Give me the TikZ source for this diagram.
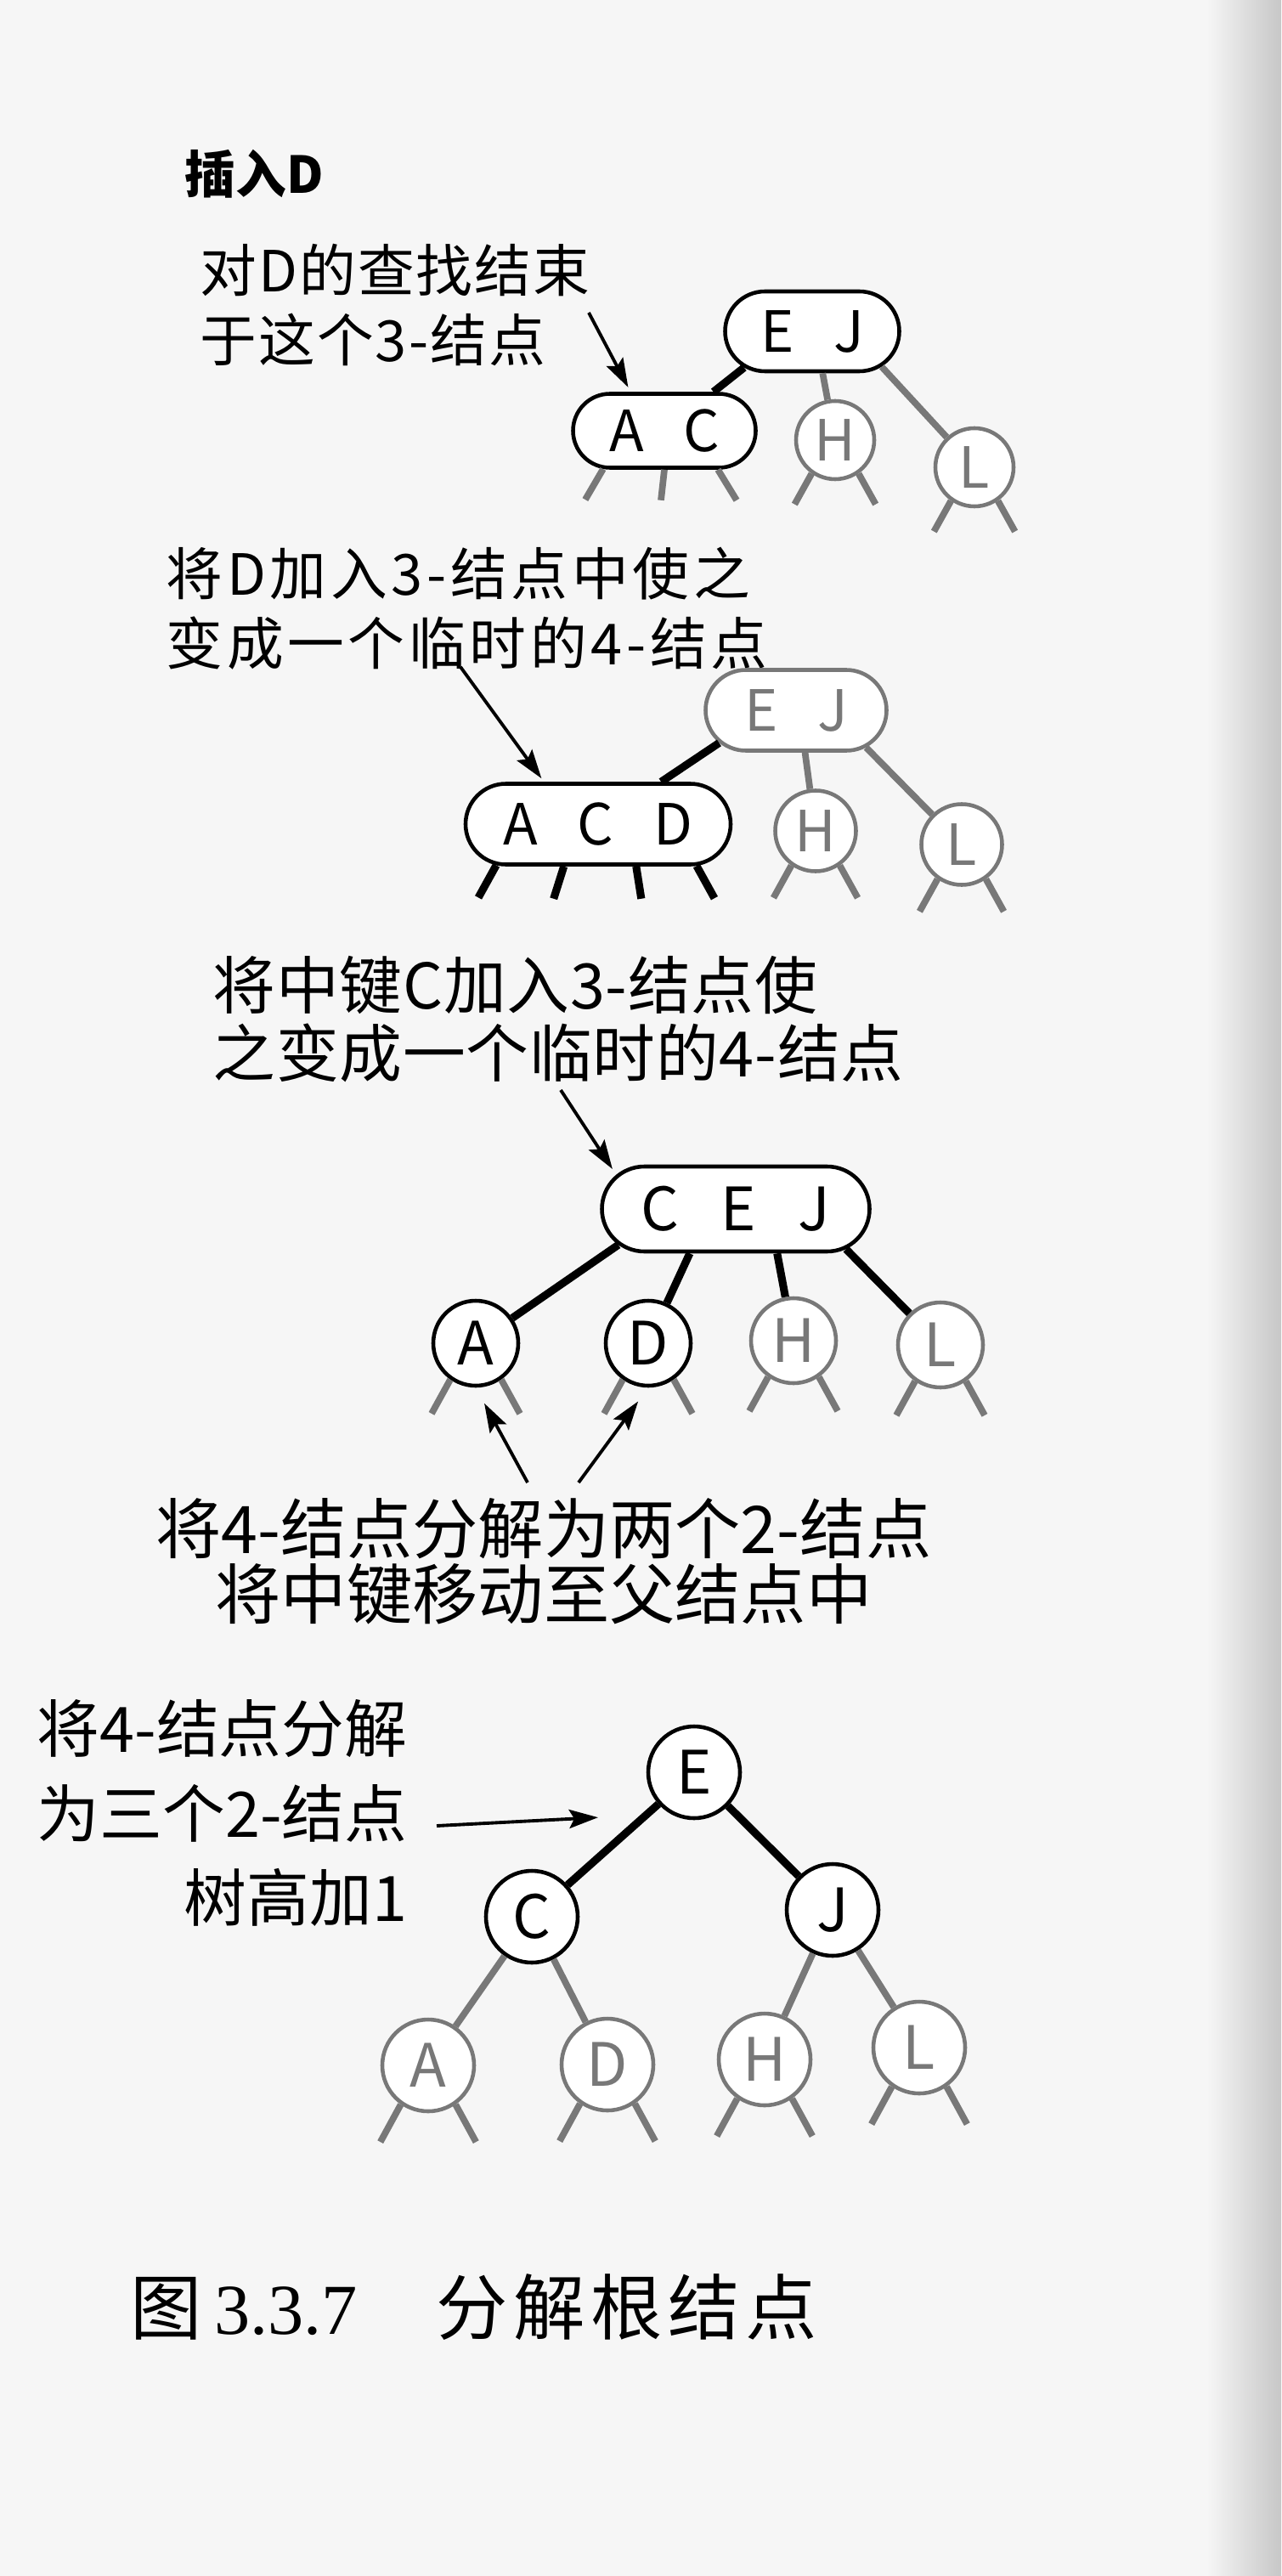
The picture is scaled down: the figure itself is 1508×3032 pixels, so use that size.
\documentclass[tikz,border=0pt]{standalone}
\usepackage{fontspec}
\setmainfont{Noto Sans CJK SC}
\newfontfamily\capfont{Liberation Serif}
\usetikzlibrary{arrows.meta,shapes.misc}
\definecolor{halftone}{gray}{0.47}
\definecolor{paper}{gray}{0.965}
\newcommand{\keygap}{\hspace{0.7em}}
\newcommand{\spread}[1]{\addfontfeatures{LetterSpace=#1}}

\begin{document}
\begin{tikzpicture}[x=0.1mm,y=-0.1mm,
  key/.style={circle,draw=black,fill=white,line width=1.3pt,minimum size=10mm,inner sep=0pt,font=\fontsize{19pt}{19pt}\selectfont},
  gkey/.style={key,draw=halftone,text=halftone},
  multi/.style={rounded rectangle,draw=black,fill=white,line width=1.3pt,inner sep=0pt,font=\fontsize{19pt}{19pt}\selectfont},
  gmulti/.style={multi,draw=halftone,text=halftone},
  link/.style={line width=2.6pt},
  glink/.style={line width=2.2pt,draw=halftone},
  arr/.style={-{Stealth[length=3.4mm,width=2.2mm,inset=0.6mm]},line width=1.1pt},
  note/.style={inner sep=0pt,font=\fontsize{19pt}{23.3pt}\selectfont}]

  \fill[paper] (0,0) rectangle (1508,3032);
  \shade[left color=paper,right color=black!22] (1420,0) rectangle (1508,3032);

  % search for D
  \node[note,anchor=west,font=\fontsize{17pt}{17pt}\selectfont\bfseries] (ins) at (217,205) {插入D};
  \node[note,anchor=west,align=left,font=\fontsize{19pt}{23.3pt}\selectfont\spread{3}] (t1) at (235,359) {对D的查找结束\\于这个3-结点};
  \node[multi,minimum width=20.5mm,minimum height=9.4mm] (ej1) at (956,390) {E\keygap J};
  \node[multi,minimum width=21.5mm,minimum height=8.7mm] (ac1) at (782,507) {A\keygap C};
  \node[gkey,minimum size=9.2mm] (h1) at (983,518) {H};
  \node[gkey,minimum size=9.2mm] (l1) at (1147,550) {L};
  \draw[link] (ej1.208) -- (ac1);
  \draw[glink] (ej1.284) -- (h1);
  \draw[glink] (ej1.333) -- (l1);
  \foreach \a/\dx in {212/-21,270/-4,324/22}
    \draw[glink] (ac1.\a) -- ++(\dx,36);
  \foreach \n in {h1,l1} {
    \draw[glink] (\n.235) -- ++(-20,36);
    \draw[glink] (\n.305) -- ++(20,36);
  }
  \coordinate (s1) at (693,368);
  \draw[arr,shorten >=0.6mm] (s1) -- (ac1.131);

  % temporary 4-node
  \node[note,anchor=west,align=left,font=\fontsize{19pt}{23.3pt}\selectfont\spread{7}] (t2) at (195,716) {将D加入3-结点中使之\\变成一个临时的4-结点};
  \node[gmulti,minimum width=21.3mm,minimum height=9.5mm] (ej2) at (937,836) {E\keygap J};
  \node[multi,minimum width=31.2mm,minimum height=9.5mm] (acd2) at (704,970) {A\keygap C\keygap D};
  \node[gkey,minimum size=9.5mm] (h2) at (960,978) {H};
  \node[gkey,minimum size=9.5mm] (l2) at (1132,994) {L};
  \draw[link] (ej2.203) -- (acd2);
  \draw[glink] (ej2.282) -- (h2);
  \draw[glink] (ej2.332) -- (l2);
  \foreach \a/\dx in {202/-21,231/-12,312/6,337/21}
    \draw[link] (acd2.\a) -- ++(\dx,38);
  \foreach \n in {h2,l2} {
    \draw[glink] (\n.235) -- ++(-21,38);
    \draw[glink] (\n.305) -- ++(21,38);
  }
  \coordinate (s2) at (542,785);
  \draw[arr,shorten >=0.5mm] (s2) -- (acd2.142);

  % middle key goes up
  \node[note,anchor=west,align=left,font=\fontsize{21pt}{22.8pt}\selectfont\spread{1}] (t3) at (250,1200) {将中键C加入3-结点使\\之变成一个临时的4-结点};
  \node[multi,minimum width=31.5mm,minimum height=10mm,font=\fontsize{20pt}{20pt}\selectfont] (cej3) at (866,1423) {C\keygap E\keygap J};
  \node[key,font=\fontsize{20pt}{20pt}\selectfont] (a3) at (560,1581) {A};
  \node[key,font=\fontsize{20pt}{20pt}\selectfont] (d3) at (763,1581) {D};
  \node[gkey,font=\fontsize{20pt}{20pt}\selectfont] (h3) at (934,1578) {H};
  \node[gkey,font=\fontsize{20pt}{20pt}\selectfont] (l3) at (1107,1583) {L};
  \draw[link] (cej3.197) -- (a3);
  \draw[link] (cej3.224) -- (d3);
  \draw[link] (cej3.313) -- (h3);
  \draw[link] (cej3.340) -- (l3);
  \foreach \n in {a3,d3,h3,l3} {
    \draw[glink] (\n.235) -- ++(-22,40);
    \draw[glink] (\n.305) -- ++(22,40);
  }
  \coordinate (s3) at (660,1283);
  \draw[arr,shorten >=0.8mm] (s3) -- (cej3.164);

  \node[note,align=center,font=\fontsize{22pt}{22pt}\selectfont] (t4) at (640,1838) {将4-结点分解为两个2-结点\\将中键移动至父结点中};
  \coordinate (s4a) at (621,1745);
  \coordinate (s4b) at (681,1745);
  \draw[arr,shorten >=2.1mm] (s4a) -- (a3.south);
  \draw[arr,shorten >=2mm] (s4b) -- (d3.south);

  % split the root
  \node[note,anchor=east,align=right,font=\fontsize{21pt}{28.4pt}\selectfont] (t5) at (480,2134) {将4-结点分解\\为三个2-结点\\树高加1};
  \node[key,minimum size=10.8mm,font=\fontsize{20pt}{20pt}\selectfont] (e5) at (817,2086) {E};
  \node[key,minimum size=10.8mm,font=\fontsize{20pt}{20pt}\selectfont] (c5) at (626,2256) {C};
  \node[key,minimum size=10.8mm,font=\fontsize{20pt}{20pt}\selectfont] (j5) at (980,2248) {J};
  \node[gkey,minimum size=10.8mm,font=\fontsize{20pt}{20pt}\selectfont] (a5) at (504,2431) {A};
  \node[gkey,minimum size=10.8mm,font=\fontsize{20pt}{20pt}\selectfont] (d5) at (715,2430) {D};
  \node[gkey,minimum size=10.8mm,font=\fontsize{20pt}{20pt}\selectfont] (h5) at (900,2424) {H};
  \node[gkey,minimum size=10.8mm,font=\fontsize{20pt}{20pt}\selectfont] (l5) at (1082,2410) {L};
  \draw[link] (e5) -- (c5);
  \draw[link] (e5) -- (j5);
  \draw[glink] (c5) -- (a5);
  \draw[glink] (c5) -- (d5);
  \draw[glink] (j5) -- (h5);
  \draw[glink] (j5) -- (l5);
  \foreach \n in {a5,d5,h5,l5} {
    \draw[glink] (\n.235) -- ++(-24,44);
    \draw[glink] (\n.305) -- ++(24,44);
  }
  \coordinate (s5) at (514,2149);
  \draw[arr,shorten >=8.5mm] (s5) -- (e5.240);

  \node[anchor=west,inner sep=0pt,font=\fontsize{24pt}{24pt}\selectfont] (cap) at (153,2715) {图\,{\capfont 3.3.7}\hspace{1.1em}{\spread{8}分解根结点}};
\end{tikzpicture}
\end{document}
